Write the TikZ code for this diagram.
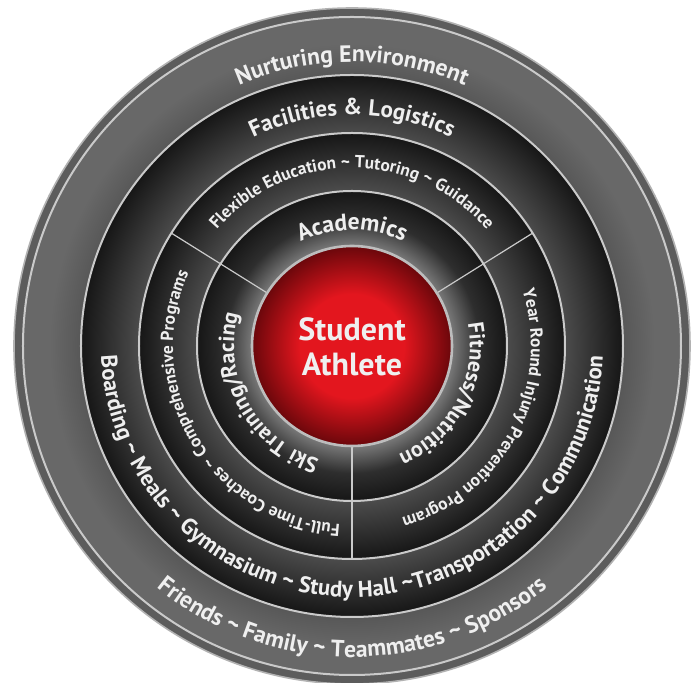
\documentclass[tikz,border=0pt]{standalone}
\usepackage{fontspec}
\setmainfont{PT Sans}
\usetikzlibrary{decorations.text}

\definecolor{rimgray}{HTML}{5C5C5C}
\definecolor{nurturein}{HTML}{585858}
\definecolor{nurtureout}{HTML}{686868}
\definecolor{ringdark}{HTML}{161616}
\definecolor{ringmid}{HTML}{2E2E2E}
\definecolor{ringlite}{HTML}{4C4C4C}
\definecolor{corelite}{HTML}{7A7A7A}
\definecolor{redlite}{HTML}{E3161E}
\definecolor{reddark}{HTML}{6A070B}
\definecolor{linegray}{HTML}{CACACA}
\definecolor{rimlight}{HTML}{BDBDBD}
\definecolor{textwhite}{HTML}{EFEFEF}

% 25bp is the rim of the shaded circle
\pgfdeclareradialshading{nurtureshade}{\pgfpoint{0bp}{0bp}}{color(0bp)=(nurturein); color(20.7bp)=(nurturein); color(23bp)=(nurtureout); color(25bp)=(nurtureout); color(50bp)=(nurtureout)}
\pgfdeclareradialshading{facilityshade}{\pgfpoint{0bp}{0bp}}{color(0bp)=(ringlite); color(19.6bp)=(ringlite); color(22.6bp)=(ringmid); color(25bp)=(ringdark); color(50bp)=(ringdark)}
\pgfdeclareradialshading{middleshade}{\pgfpoint{0bp}{0bp}}{color(0bp)=(ringlite); color(18.2bp)=(ringlite); color(22bp)=(ringmid); color(25bp)=(ringdark); color(50bp)=(ringdark)}
\pgfdeclareradialshading{innershade}{\pgfpoint{0bp}{0bp}}{color(0bp)=(corelite); color(16.1bp)=(corelite); color(20.5bp)=(ringmid); color(25bp)=(ringdark); color(50bp)=(ringdark)}
\pgfdeclareradialshading{redshade}{\pgfpoint{0bp}{0bp}}{color(0bp)=(redlite); color(13bp)=(redlite); color(25bp)=(reddark); color(50bp)=(reddark)}

\newcommand\nurturefont{\fontsize{11.8}{13}\selectfont\bfseries\color{textwhite}}
\newcommand\logisticsfont{\fontsize{11.5}{13}\selectfont\bfseries\color{textwhite}}
\newcommand\boardingfont{\fontsize{11.4}{13}\selectfont\bfseries\color{textwhite}}
\newcommand\supportfont{\fontsize{8.7}{10}\selectfont\bfseries\color{textwhite}}
\newcommand\pillarfont{\fontsize{11}{13}\selectfont\bfseries\color{textwhite}}
\newcommand\academicsfont{\fontsize{11.8}{13}\selectfont\bfseries\color{textwhite}}

\tikzset{
  ringline/.style={draw=linegray, line width=1pt},
  divider/.style={draw=linegray, line width=0.6pt},
  arctext/.style={decorate, decoration={text along path, text align=center, text={#1}}}
}

\begin{document}
\begin{tikzpicture}[x=0.5pt, y=0.5pt]
  \clip (-352,-337) rectangle (344,346);
  \fill[white] (-352,-337) rectangle (344,346);
  % rings, outside in
  \fill[rimgray, draw=black!30, line width=0.8pt] (0,0) circle[radius=338];
  \shade[shading=nurtureshade] (0,0) circle[radius=329];
  \draw[ringline] (0,0) circle[radius=329];
  \shade[shading=facilityshade] (0,0) circle[radius=271];
  \draw[ringline] (0,0) circle[radius=271];
  \shade[shading=middleshade] (0,0) circle[radius=213];
  \draw[ringline] (0,0) circle[radius=213];
  \shade[shading=innershade] (0,0) circle[radius=155];
  \draw[ringline] (0,0) circle[radius=155];
  \foreach \a in {148,32,270}
    \draw[divider] (\a:100) -- (\a:213);
  \shade[shading=redshade] (0,0) circle[radius=100];
  \draw[draw=rimlight, line width=1.3pt] (0,0) circle[radius=100];
  \node[name=athlete, align=center, text=textwhite, font=\fontsize{16}{17.5}\selectfont\bfseries] at (0,-1) {Student\\Athlete};

  % outer ring
  \path[arctext={|\nurturefont|Nurturing Environment}] (170:284) arc[start angle=170, end angle=10, radius=284];
  \path[arctext={|\nurturefont|Friends {\textasciitilde} Family {\textasciitilde} Teammates {\textasciitilde} Sponsors}] (190:311) arc[start angle=190, end angle=350, radius=311];
  % facilities ring
  \path[arctext={|\logisticsfont|Facilities {\&} Logistics}] (170:231) arc[start angle=170, end angle=10, radius=231];
  \path[arctext={|\boardingfont|Boarding {\textasciitilde} Meals {\textasciitilde} Gymnasium {\textasciitilde} Study Hall {\textasciitilde}Transportation {\textasciitilde} Communication}] (160:251) arc[start angle=160, end angle=380, radius=251];
  % support ring
  \path[arctext={|\supportfont|Flexible Education {\textasciitilde} Tutoring {\textasciitilde} Guidance}] (175:178) arc[start angle=175, end angle=5, radius=178];
  \path[arctext={|\supportfont|Year Round Injury Prevention Program}] (57:179) arc[start angle=57, end angle=-113, radius=179];
  \path[arctext={|\supportfont|Full-Time Coaches {\textasciitilde} Comprehensive Programs}] (296:179) arc[start angle=296, end angle=126, radius=179];
  % pillars
  \path[arctext={|\academicsfont|Academics}] (150:116) arc[start angle=150, end angle=30, radius=116];
  \path[arctext={|\pillarfont|Ski Training/Racing}] (279:118) arc[start angle=279, end angle=139, radius=118];
  \path[arctext={|\pillarfont|Fitness/Nutrition}] (42:118) arc[start angle=42, end angle=-98, radius=118];
\end{tikzpicture}
\end{document}
